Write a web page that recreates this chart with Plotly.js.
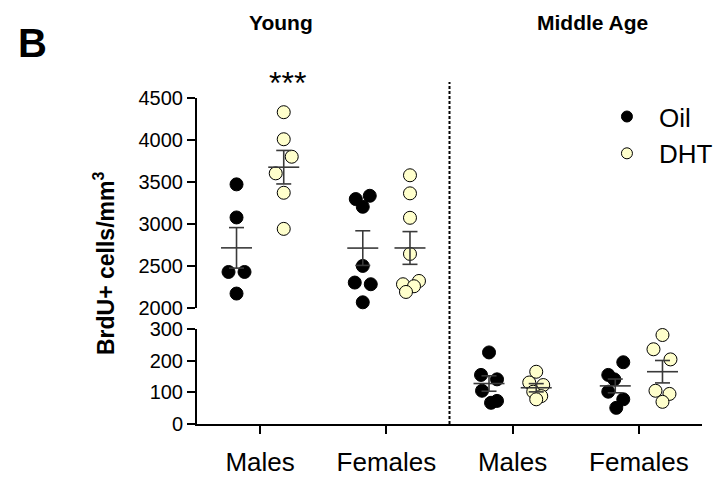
<!DOCTYPE html>
<html>
<head>
<meta charset="utf-8">
<script src="https://cdn.plot.ly/plotly-3.0.1.min.js"></script>
<style>html,body{margin:0;padding:0;background:#fff;}#chart{width:715px;height:480px;}</style>
</head>
<body>
<div id="chart"></div>
<script>
// ---- data ----
const categories = ['Males', 'Females', 'Males', 'Females'];
const ageGroups = ['Young', 'Middle Age'];
const seriesNames = ['Oil', 'DHT'];

const youngMalesOil      = [3472, 3078, 2429, 2429, 2172];
const youngMalesDHT      = [4331, 4009, 3801, 3603, 3372, 2942];
const youngFemalesOil    = [3336, 3297, 3205, 2501, 2303, 2283, 2068];
const youngFemalesDHT    = [3580, 3365, 3074, 2644, 2322, 2283, 2259, 2191];
const middleMalesOil     = [226, 155, 141, 105, 67, 73];
const middleMalesDHT     = [165, 131, 123, 102, 88, 78];
const middleFemalesOil   = [195, 155, 141, 102, 78, 51];
const middleFemalesDHT   = [281, 236, 204, 105, 95, 70];

const upperTicks = [2000, 2500, 3000, 3500, 4000, 4500];
const lowerTicks = [0, 100, 200, 300];

// ---- swarm layout (horizontal spread of points, in pixels) ----
const swarm = {
  ymo: [0, 0, -8, 8, 0],
  ymd: [0, 0, 8, -8, 0, 0],
  yfo: [7, -7, 0, 0, -8, 8, 0],
  yfd: [0, 0, 0, 0, 9, -7, 4, -4],
  mmo: [0, -8, 8, -7, 2, 8],
  mmd: [0, -7, 7, -3, 5, 0],
  mfo: [8, -7, -1, -7, 8, 1],
  mfd: [0, -9, 8, -7, 7, 0]
};
const PX = 1 / 126.25;      // one pixel in category units
const OFF = 0.187;          // Oil / DHT side offset

const groups = [
  {vals: youngMalesOil,    cat: 0, s: 0, ax: 'y2', sw: swarm.ymo},
  {vals: youngMalesDHT,    cat: 0, s: 1, ax: 'y2', sw: swarm.ymd},
  {vals: youngFemalesOil,  cat: 1, s: 0, ax: 'y2', sw: swarm.yfo},
  {vals: youngFemalesDHT,  cat: 1, s: 1, ax: 'y2', sw: swarm.yfd},
  {vals: middleMalesOil,   cat: 2, s: 0, ax: 'y',  sw: swarm.mmo},
  {vals: middleMalesDHT,   cat: 2, s: 1, ax: 'y',  sw: swarm.mmd},
  {vals: middleFemalesOil, cat: 3, s: 0, ax: 'y',  sw: swarm.mfo},
  {vals: middleFemalesDHT, cat: 3, s: 1, ax: 'y',  sw: swarm.mfd}
];

const FONT = 'Arial, "Liberation Sans", Helvetica, sans-serif';
const fill = ['#000000', '#FFFFCC'];

const traces = [];
// points
groups.forEach(g => {
  const cx = g.cat + (g.s === 0 ? -OFF : OFF);
  traces.push({
    type: 'scatter', mode: 'markers', yaxis: g.ax, showlegend: false, cliponaxis: false,
    x: g.vals.map((v, i) => cx + g.sw[i] * PX), y: g.vals,
    marker: {size: 13, color: fill[g.s], line: {color: '#000', width: 1}},
    hoverinfo: 'y'
  });
});
// mean +/- SEM
groups.forEach(g => {
  const cx = g.cat + (g.s === 0 ? -OFF : OFF);
  const n = g.vals.length;
  const m = g.vals.reduce((a, b) => a + b, 0) / n;
  const sd = Math.sqrt(g.vals.reduce((a, b) => a + (b - m) * (b - m), 0) / (n - 1));
  const se = sd / Math.sqrt(n);
  const w = 15.5 * PX, c = 7.5 * PX;
  traces.push({
    type: 'scatter', mode: 'lines', yaxis: g.ax, showlegend: false, hoverinfo: 'skip', cliponaxis: false,
    x: [cx - w, cx + w, null, cx, cx, null, cx - c, cx + c, null, cx - c, cx + c],
    y: [m, m, null, m - se, m + se, null, m + se, m + se, null, m - se, m - se],
    line: {color: '#3a3a3a', width: 1.6}
  });
});
// legend entries
seriesNames.forEach((nm, s) => {
  traces.push({
    type: 'scatter', mode: 'markers', name: nm, x: [null], y: [null], legendgroup: nm,
    marker: {size: 11, color: fill[s], line: {color: '#000', width: 1}}
  });
});

const axisCommon = {
  showline: true, linecolor: '#000', linewidth: 2, ticks: 'outside', ticklen: 8, tickwidth: 2,
  tickcolor: '#000', showgrid: false, zeroline: false, fixedrange: true, automargin: false,
  tickfont: {family: FONT, size: 20, color: '#000'}
};

const layout = {
  width: 715, height: 480,
  margin: {l: 197, r: 13, t: 98, b: 56, autoexpand: false},
  paper_bgcolor: '#fff', plot_bgcolor: '#fff',
  font: {family: FONT, color: '#000'},
  xaxis: Object.assign({}, axisCommon, {
    range: [-0.5, 3.5], tickvals: [0, 1, 2, 3], ticktext: categories,
    tickfont: {family: FONT, size: 26, color: '#000'}, anchor: 'y', ticklabelstandoff: 6
  }),
  yaxis: Object.assign({}, axisCommon, {
    domain: [0, 0.2914], range: [0, 300], tickvals: lowerTicks, anchor: 'x'
  }),
  yaxis2: Object.assign({}, axisCommon, {
    domain: [0.3558, 1], range: [2000, 4500], tickvals: upperTicks, anchor: 'x'
  }),
  showlegend: true,
  legend: {
    x: 0.788, xanchor: 'left', y: 1.015, yanchor: 'top', itemwidth: 54,
    traceorder: 'grouped', tracegroupgap: 0,
    font: {family: FONT, size: 26, color: '#000'}, bgcolor: 'rgba(0,0,0,0)'
  },
  shapes: [{
    type: 'line', xref: 'x', yref: 'paper', x0: 1.5, x1: 1.5, y0: 0, y1: 1.049,
    line: {color: '#000', width: 2, dash: '3px,2px'}
  }],
  annotations: [
    {text: '<b>B</b>', xref: 'paper', yref: 'paper', x: -0.325, y: 1.17, xanchor: 'center', yanchor: 'middle',
     showarrow: false, font: {family: FONT, size: 40, color: '#000'}},
    {text: '<b>' + ageGroups[0] + '</b>', xref: 'x', yref: 'paper', x: 0.167, y: 1.233, xanchor: 'center', yanchor: 'middle',
     showarrow: false, font: {family: FONT, size: 21, color: '#000'}},
    {text: '<b>' + ageGroups[1] + '</b>', xref: 'x', yref: 'paper', x: 2.63, y: 1.233, xanchor: 'center', yanchor: 'middle',
     showarrow: false, font: {family: FONT, size: 21, color: '#000'}},
    {text: '***', xref: 'x', yref: 'paper', x: OFF + 4 * PX, y: 0.985, xanchor: 'center', yanchor: 'bottom',
     showarrow: false, font: {family: FONT, size: 32, color: '#000'}},
    {text: '<b>BrdU+ cells/mm<sup>3</sup></b>', xref: 'paper', yref: 'paper', x: -0.184, y: 0.494,
     xanchor: 'center', yanchor: 'middle',
     textangle: -90, showarrow: false, font: {family: FONT, size: 23, color: '#000'}}
  ]
};

Plotly.newPlot('chart', traces, layout, {displayModeBar: false, staticPlot: true});
</script>
</body>
</html>
